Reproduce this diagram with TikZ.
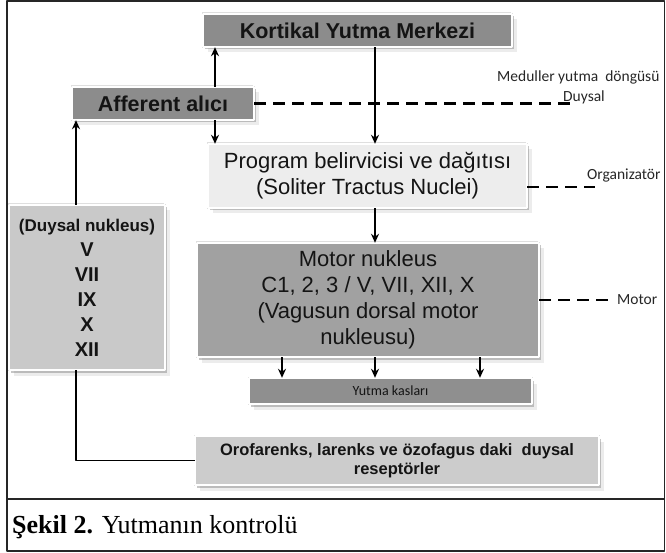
\documentclass[tikz,border=0pt]{standalone}
\usepackage{fontspec}
\setmainfont{Liberation Sans}
\newfontfamily\capfont{Liberation Serif}
\newfontfamily\calfont{Carlito}
\usetikzlibrary{shadows,arrows.meta}
\begin{document}
\begin{tikzpicture}[x=1pt, y=-1pt, line join=round, >={Stealth[length=9pt, width=8pt]},
    box/.style={draw=black!45, double=white, double distance=1.4pt, line width=.4pt,
      inner sep=0pt, align=center, text=black!92,
      drop shadow={opacity=.15, shadow xshift=4.5pt, shadow yshift=-5.5pt},
      drop shadow={opacity=.25, shadow xshift=-1.5pt, shadow yshift=1.5pt},
      drop shadow={opacity=.45, shadow xshift=2pt, shadow yshift=-2.5pt}},
    arr/.style={->, line width=1.7pt},
    dsh/.style={line width=2.4pt, dash pattern=on 12pt off 7pt},
    lbl/.style={anchor=west, inner sep=0pt, text=black!85,
      font=\calfont\fontsize{15.5}{18}\selectfont}]
  \useasboundingbox (0,0) rectangle (666,553);
  \draw[line width=1.2pt, black!85] (7,1) rectangle (664.5,551);
  \draw[line width=1.2pt, black!85] (7,499) -- (664.5,499);

  \node[box, fill=black!45, minimum width=309pt, minimum height=33pt,
    font=\bfseries\fontsize{21.5}{26}\selectfont] (kort) at (357.5,30.5) {Kortikal Yutma Merkezi};
  \node[box, fill=black!45, minimum width=182pt, minimum height=33pt,
    font=\bfseries\fontsize{21.5}{26}\selectfont] (aff) at (163,103.5) {Afferent alıcı};
  \node[box, fill=black!7, minimum width=319pt, minimum height=64pt,
    font=\fontsize{22}{26}\selectfont] (prog) at (367.5,176) {Program belirvicisi ve dağıtısı\\(Soliter Tractus Nuclei)};
  \node[box, fill=black!37, minimum width=342pt, minimum height=114pt,
    font=\fontsize{22}{26}\selectfont] (motor) at (368,300) {Motor nukleus\\C1, 2, 3 / V, VII, XII, X\\(Vagusun dorsal motor\\nukleusu)};
  \node[box, fill=black!44, minimum width=283pt, minimum height=26pt,
    font=\calfont\fontsize{14}{16}\selectfont] (kas) at (390.5,391) {Yutma kasları};
  \node[box, fill=black!21, minimum width=156pt, minimum height=165pt,
    font=\bfseries\fontsize{20}{25}\selectfont] (duy) at (87,287.5) {{\fontsize{17}{25}\selectfont(Duysal nukleus)}\\V\\VII\\IX\\X\\XII};
  \node[box, fill=black!20, minimum width=404pt, minimum height=49pt,
    font=\bfseries\fontsize{16.5}{19}\selectfont] (oro) at (397,460.5) {Orofarenks, larenks ve özofagus daki\ \ duysal\\reseptörler};

  \node[lbl] (med) at (497,77) {Meduller yutma\ \ döngüsü};
  \node[lbl] (duyl) at (563,97) {Duysal};
  \node[lbl] (org) at (587,176) {Organizatör};
  \node[lbl] (mot) at (617,300) {Motor};
  \node[anchor=west, inner sep=0pt, font=\capfont\fontsize{26}{30}\selectfont] (cap) at (12,527) {\textbf{Şekil 2.} Yutmanın kontrolü};

  \coordinate (dd) at (577,103.5);
  \coordinate (od) at (595,187);
  \coordinate (md) at (610,300);
  \draw[dsh] (aff.east) -- (dd);
  \draw[dsh] (prog.east |- od) -- (od);
  \draw[dsh] (motor.east) -- (md);

  \coordinate (xa) at (215,0);
  \coordinate (xb) at (375,0);
  \coordinate (xd) at (76,0);
  \coordinate (xk1) at (282,0);
  \coordinate (xk3) at (480,0);
  \draw[arr] (aff.north -| xa) -- (kort.south -| xa);
  \draw[arr] (aff.south -| xa) -- (prog.north -| xa);
  \draw[arr] (kort.south -| xb) -- (prog.north -| xb);
  \draw[arr] (prog.south -| xb) -- (motor.north -| xb);
  \foreach \c in {xk1,xb,xk3}
    \draw[arr] (motor.south -| \c) -- (kas.north -| \c);
  \draw[arr] (duy.north -| xd) -- (aff.south -| xd);
  \draw[line width=1.7pt] (duy.south -| xd) |- (oro.west);
\end{tikzpicture}
\end{document}
